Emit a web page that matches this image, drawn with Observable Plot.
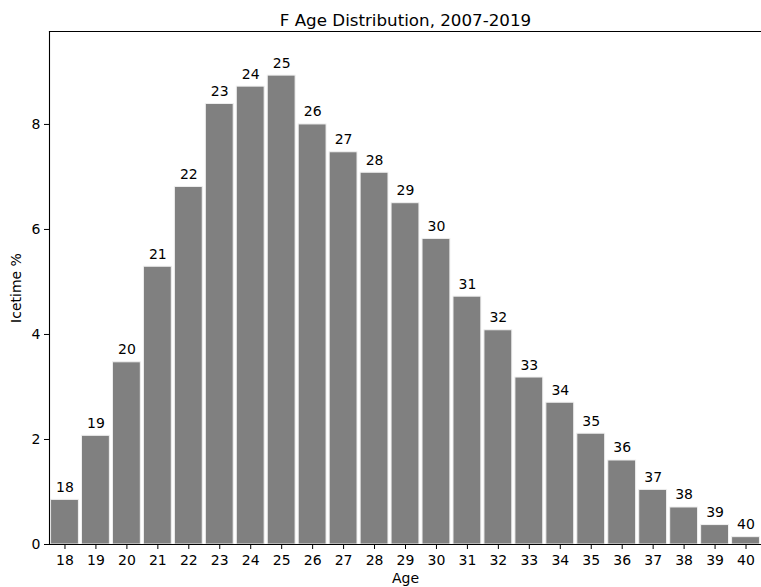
<!DOCTYPE html>
<html>
<head>
<meta charset="utf-8">
<script src="https://cdn.jsdelivr.net/npm/d3@7"></script>
<script src="https://cdn.jsdelivr.net/npm/@observablehq/plot@0.6"></script>
<style>
  html, body { margin: 0; padding: 0; background: #fff; }
  #chart svg { display: block; }
</style>
</head>
<body>
<div id="chart"></div>
<script>
const ages = [18,19,20,21,22,23,24,25,26,27,28,29,30,31,32,33,34,35,36,37,38,39,40];
const icetime = [0.85,2.07,3.47,5.29,6.81,8.39,8.72,8.93,8.00,7.47,7.08,6.50,5.82,4.72,4.08,3.18,2.70,2.11,1.60,1.04,0.705,0.37,0.14];
const yTicks = [0,2,4,6,8];
const titleText = "F Age Distribution, 2007-2019";
const xLabel = "Age";
const yLabel = "Icetime %";

const data = ages.map((a, i) => ({age: a, value: icetime[i]}));

const chart = Plot.plot({
  width: 761,
  height: 587,
  marginTop: 31,
  marginBottom: 43,
  marginLeft: 49,
  marginRight: 0,
  style: {fontFamily: "DejaVu Sans", fontSize: "14px", color: "#000", background: "#fff"},
  x: {
    type: "band",
    domain: ages,
    paddingInner: 0.1,
    paddingOuter: 0.05,
    align: 0.5,
    round: false
  },
  y: {domain: [0, 9.77]},
  marks: [
    Plot.barY(data, {x: "age", y: "value", fill: "#808080", stroke: "#f0f0f0", strokeWidth: 1}),
    Plot.text(data, {x: "age", y: "value", text: d => String(d.age), lineAnchor: "bottom", dy: -8, fontSize: 14, fill: "#000"}),
    Plot.frame({anchor: "top", stroke: "#000", strokeWidth: 1.1}),
    Plot.frame({anchor: "left", stroke: "#000", strokeWidth: 1.1}),
    Plot.frame({anchor: "bottom", stroke: "#000", strokeWidth: 1.1}),
    Plot.axisX({ticks: ages, tickSize: 5, tickPadding: 6, fontSize: 14, label: xLabel, labelAnchor: "center", labelArrow: "none", labelOffset: 38}),
    Plot.axisY({ticks: yTicks, tickSize: 5, tickPadding: 4, fontSize: 14, label: yLabel, labelAnchor: "center", labelArrow: "none", labelOffset: 38}),
    Plot.text([titleText], {frameAnchor: "top", dy: -17, fontSize: 16.7, text: d => d, fill: "#000"})
  ]
});
document.getElementById("chart").appendChild(chart);
</script>
</body>
</html>
